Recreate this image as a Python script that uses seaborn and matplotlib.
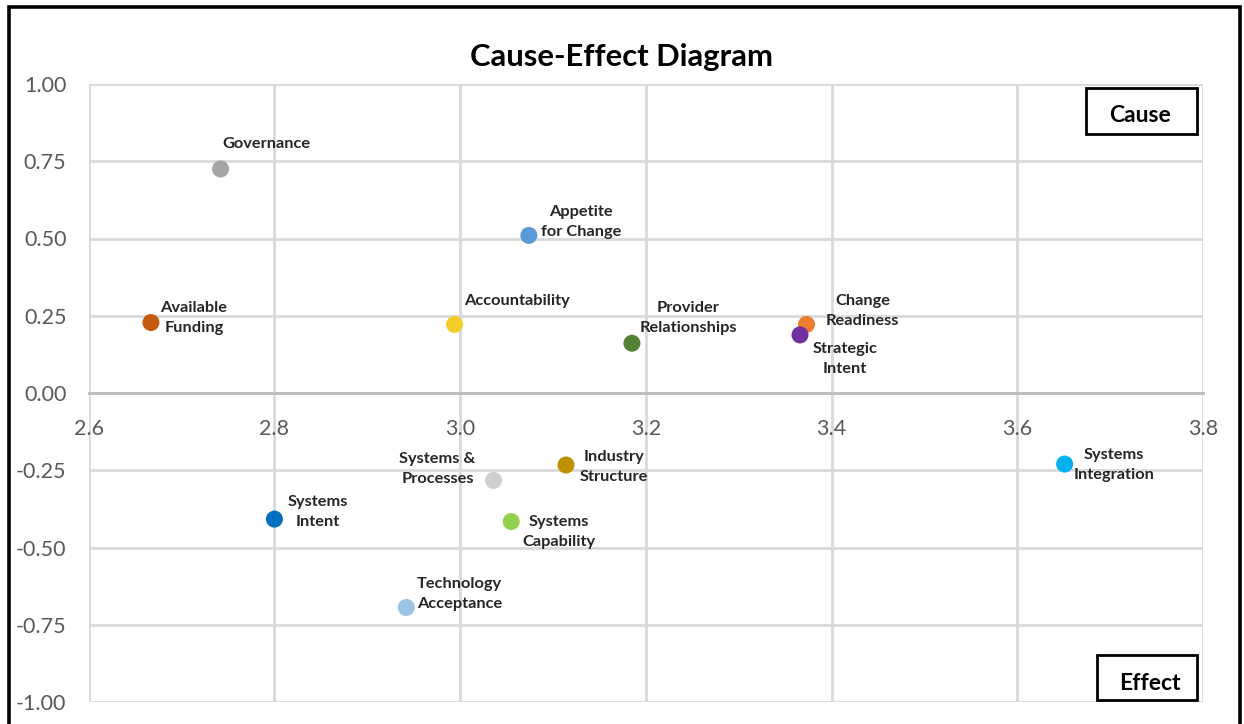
import matplotlib
matplotlib.use("Agg")
import matplotlib.pyplot as plt
from matplotlib.patches import Rectangle
import numpy as np
import pandas as pd
import seaborn as sns

# DEMATEL cause-effect factors: prominence (D+R) vs relation (D-R)
factors = [
    "Governance", "Appetite\nfor Change", "Available\nFunding", "Accountability",
    "Provider\nRelationships", "Change\nReadiness", "Strategic\nIntent",
    "Systems\nIntegration", "Systems &\nProcesses", "Industry\nStructure",
    "Systems\nIntent", "Systems\nCapability", "Technology\nAcceptance",
]
prominence = [2.742, 3.074, 2.667, 2.994, 3.185, 3.373, 3.366,
              3.651, 3.036, 3.114, 2.800, 3.055, 2.942]
relation = [0.725, 0.510, 0.228, 0.222, 0.161, 0.222, 0.188,
            -0.230, -0.283, -0.233, -0.408, -0.416, -0.694]
colors = ["#A5A5A5", "#5B9BD5", "#C55A11", "#F4CD2A", "#548235", "#ED7D31",
          "#7030A0", "#00B0F0", "#D0CECE", "#BF9000", "#0070C0", "#92D050",
          "#9DC3E6"]
x_ticks = [2.6, 2.8, 3.0, 3.2, 3.4, 3.6, 3.8]
y_ticks = [-1.00, -0.75, -0.50, -0.25, 0.00, 0.25, 0.50, 0.75, 1.00]

# label offsets from each marker, in pixels (dx right, dy up)
label_offsets = [(46, 25), (52, 13), (43, 5), (62, 23), (56, 25), (56, 13),
                 (45, -24), (49, -1), (-56, 11), (48, -2), (43, 7), (48, -10),
                 (53, 13)]

df = pd.DataFrame({"factor": factors, "prominence": prominence, "relation": relation})

sns.set_theme(style="white")
plt.rcParams["font.family"] = ["Lato", "DejaVu Sans"]

DPI = 100
fig = plt.figure(figsize=(12.44, 7.24), dpi=DPI)
ax = fig.add_axes([88.7 / 1244, 1 - 702 / 724, (1203 - 88.7) / 1244, (702 - 84) / 724])

sns.scatterplot(data=df, x="prominence", y="relation", hue="factor",
                palette=dict(zip(factors, colors)), s=150, linewidth=0,
                legend=False, ax=ax, zorder=5, clip_on=False)

ax.set_xlim(2.6, 3.8)
ax.set_ylim(-1.0, 1.0)
ax.set_xticks(x_ticks)
ax.set_yticks(y_ticks)
ax.set_xticklabels([f"{v:.1f}" for v in x_ticks])
ax.set_yticklabels([f"{v:.2f}" for v in y_ticks])
ax.set_xlabel("")
ax.set_ylabel("")

ax.grid(True, color="#D9D9D9", linewidth=2.0, zorder=0)
ax.set_axisbelow(True)
for side in ["top", "right", "left"]:
    ax.spines[side].set_visible(False)
ax.spines["bottom"].set_position(("data", 0))
ax.spines["bottom"].set_color("#BFBFBF")
ax.spines["bottom"].set_linewidth(2.2)
ax.tick_params(axis="x", length=0, pad=19, labelsize=15.5, labelcolor="#595959")
ax.tick_params(axis="y", length=0, pad=16, labelsize=15.5, labelcolor="#595959")

px = 72.0 / DPI
for name, xv, yv, (dx, dy) in zip(factors, prominence, relation, label_offsets):
    ax.annotate(name, (xv, yv), xytext=(dx * px, dy * px), textcoords="offset points",
                ha="center", va="center", multialignment="center",
                fontsize=11.8, fontweight="bold", color="#262626",
                linespacing=1.55, zorder=6)

# quadrant boxes
def fig_box(x0, y0, x1, y1, text, tx, ty):
    fig.patches.append(Rectangle((x0 / 1244, 1 - y1 / 724), (x1 - x0) / 1244,
                                 (y1 - y0) / 724, transform=fig.transFigure,
                                 fill=True, facecolor="white", edgecolor="black",
                                 linewidth=2.0, zorder=10))
    fig.text(tx / 1244, 1 - ty / 724, text, ha="center", va="center",
             fontsize=16.5, fontweight="bold", color="black", zorder=11)

fig_box(1086, 88, 1197, 134, "Cause", 1140, 116)
fig_box(1097, 655, 1197, 700, "Effect", 1150, 683)

fig.text(622 / 1244, 1 - 57 / 724, "Cause-Effect Diagram", ha="center", va="center",
         fontsize=22.3, fontweight="bold", color="black")

# outer chart frame
fig.patches.append(Rectangle((8.5 / 1244, -0.05), (1239.5 - 8.5) / 1244,
                             1.05 - 6.5 / 724, transform=fig.transFigure,
                             fill=False, edgecolor="black", linewidth=2.6, zorder=12))

fig.savefig("out.png", dpi=DPI)
